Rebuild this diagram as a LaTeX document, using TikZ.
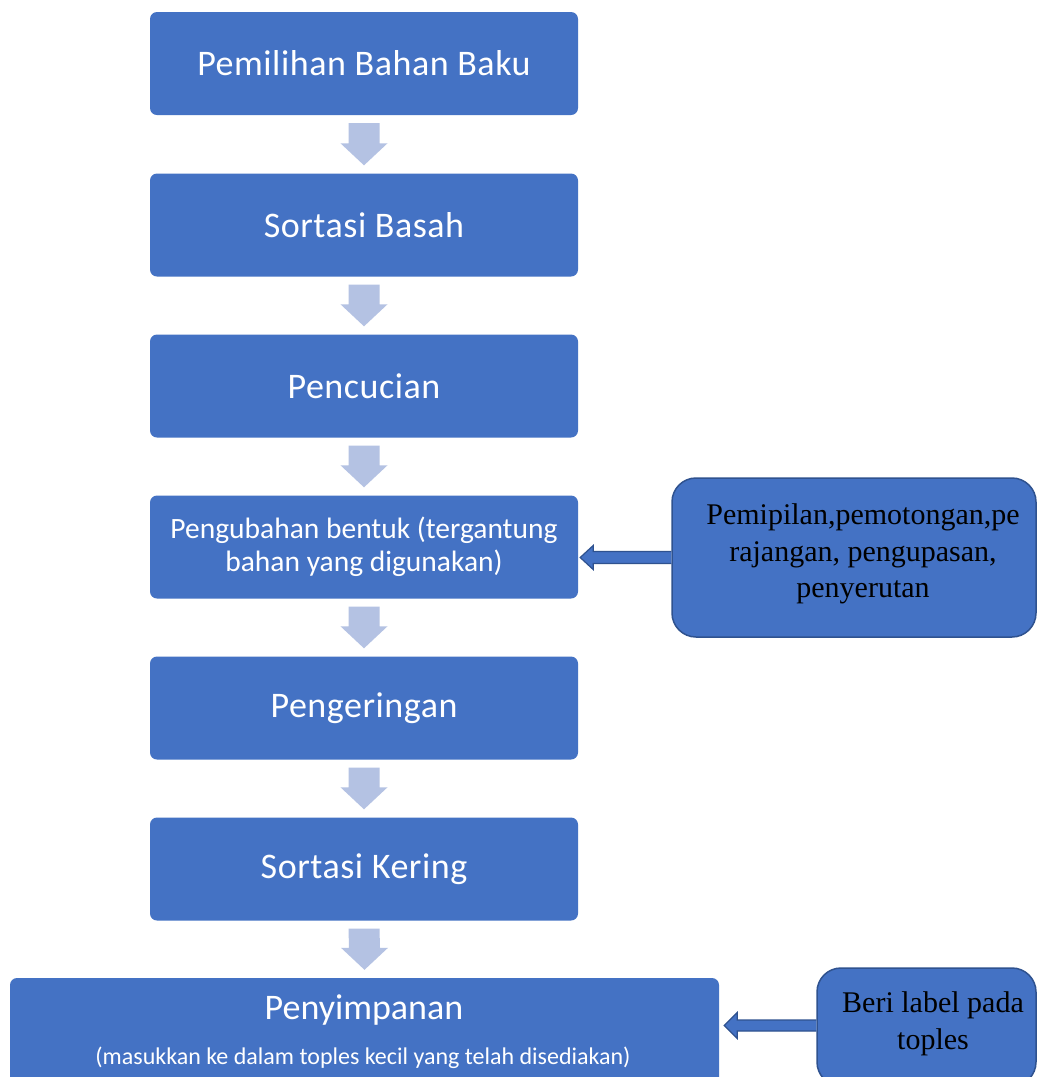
\documentclass[tikz,border=0pt]{standalone}
\usepackage{fontspec}
\usetikzlibrary{calc}
\setmainfont{Carlito}
\newfontfamily\mainsp[LetterSpace=1.5]{Carlito}
\newfontfamily\serifside{Liberation Serif}
\definecolor{boxblue}{HTML}{4472C4}
\definecolor{boxedge}{HTML}{2F528F}
\definecolor{flowarrow}{HTML}{B4C2E3}
\begin{document}
\begin{tikzpicture}[x=1pt,y=-1pt,
  mainbox/.style={fill=boxblue, rounded corners=7pt, minimum width=428pt, minimum height=103pt, text=white, align=center, inner sep=0pt, font=\mainsp\fontsize{36}{40}\selectfont},
  sidebox/.style={fill=boxblue, draw=boxedge, line width=1.5pt, rounded corners=24pt, inner sep=0pt},
  sidetext/.style={text=black, align=center, inner sep=0pt, font=\serifside\fontsize{30}{36.5}\selectfont},
  downarrow/.style={fill=flowarrow},
  sidearrow/.style={fill=boxblue, draw=boxedge, line width=1.2pt, line join=miter}]
\clip (0,0) rectangle (1038,1077);
\fill[white] (0,0) rectangle (1038,1077);

\node[mainbox] (b1) at (364,63.5) {Pemilihan Bahan Baku};
\node[mainbox] (b2) at (364,225) {Sortasi Basah};
\node[mainbox] (b3) at (364,386) {Pencucian};
\node[mainbox, font=\fontsize{29.5}{33}\selectfont] (b4) at (364,547) {Pengubahan bentuk (tergantung\\bahan yang digunakan)};
\node[mainbox] (b5) at (364,708) {Pengeringan};
\node[mainbox] (b6) at (364,869) {Sortasi Kering};
\node[mainbox, minimum width=709pt, minimum height=112pt] (b7) at (364.5,1034) {};
\node[text=white, font=\fontsize{36}{40}\selectfont, inner sep=0pt] (b7t) at (364,1010) {Penyimpanan};
\node[text=white, font=\fontsize{24}{28}\selectfont, inner sep=0pt] (b7s) at (363,1058) {(masukkan ke dalam toples kecil yang telah disediakan)};

\node[sidebox, minimum width=364pt, minimum height=159pt] (s1) at (854,557.5) {};
\node[sidetext] (s1t) at (863,554) {Pemipilan,pemotongan,pe\\rajangan, pengupasan,\\penyerutan};
\node[sidebox, minimum width=219pt, minimum height=118pt] (s2) at (926.5,1027) {};
\node[sidetext] (s2t) at (933,1024) {Beri label pada\\toples};

% down arrows
\foreach \a/\b in {b1/b2,b2/b3,b3/b4,b4/b5,b5/b6,b6/b7}{
  \path (\a.south) ++(0,8) coordinate (top);
  \path (\b.north) ++(0,-8) coordinate (tip);
  \fill[downarrow] ($(top)+(-15.5,0)$) -- ($(top)+(15.5,0)$) -- ($(tip)+(15.5,-22)$) -- ($(tip)+(23.5,-22)$) -- (tip) -- ($(tip)+(-23.5,-22)$) -- ($(tip)+(-15.5,-22)$) -- cycle;
}

% side arrows
\path (s1.west) coordinate (sa);
\path (b4.east |- sa) ++(2,0) coordinate (st);
\draw[sidearrow] (sa) ++(0,-6) -- ($(st)+(13,-6)$) -- ($(st)+(13,-12)$) -- (st) -- ($(st)+(13,12)$) -- ($(st)+(13,6)$) -- ($(sa)+(0,6)$);

\path (s2.west |- 0,1025.5) coordinate (sb);
\path (b7.east |- sb) ++(5,0) coordinate (sbt);
\draw[sidearrow] (sb) ++(0,-5.5) -- ($(sbt)+(13,-5.5)$) -- ($(sbt)+(13,-13)$) -- (sbt) -- ($(sbt)+(13,13)$) -- ($(sbt)+(13,5.5)$) -- ($(sb)+(0,5.5)$);
\end{tikzpicture}
\end{document}
